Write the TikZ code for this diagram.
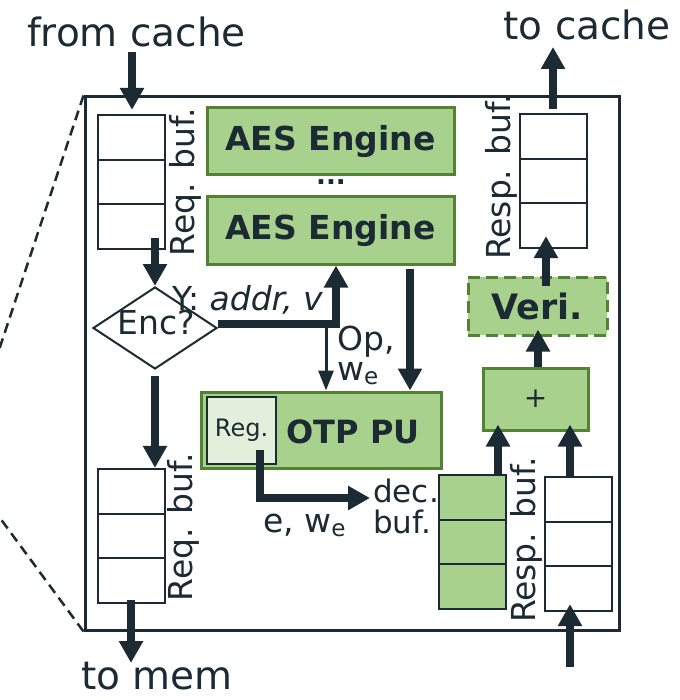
\documentclass[tikz,border=0pt]{standalone}
\usepackage{fontspec}
\setmainfont{DejaVu Sans}
\usetikzlibrary{arrows.meta,shapes.geometric,calc}
\definecolor{ink}{HTML}{1C2B33}
\definecolor{gfill}{HTML}{A9D18E}
\definecolor{gline}{HTML}{548235}
\definecolor{lfill}{HTML}{E2EFDA}
\begin{document}
\begin{tikzpicture}[x=1pt,y=-1pt,
  every node/.style={text=ink, inner sep=0pt},
  lbl/.style={font=\fontsize{33}{36}\selectfont},
  outer/.style={font=\fontsize{39}{42}\selectfont},
  buf/.style={draw=ink, line width=2.2pt, minimum width=67pt, minimum height=134pt,
    path picture={\foreach \f in {1,2}{\draw[ink,line width=2.2pt]
      ($(path picture bounding box.north west)!\f/3!(path picture bounding box.south west)$) --
      ($(path picture bounding box.north east)!\f/3!(path picture bounding box.south east)$);}}},
  gbox/.style={draw=gline, fill=gfill, line width=3pt},
  btxt/.style={font=\fontsize{33}{36}\selectfont\bfseries},
  thk/.style={draw=ink, line width=8pt, -{Triangle[width=23pt,length=22pt]}},
  thn/.style={draw=ink, line width=3pt, -{Triangle[width=15pt,length=20pt]}},
]
\useasboundingbox (0,0) rectangle (679,700);

% outer box and zoom lines
\node[draw=ink, line width=3pt, minimum width=534pt, minimum height=533pt] (outerbox) at (352,363.5) {};
\draw[ink, line width=2.5pt, dash pattern=on 10pt off 6pt] (outerbox.north west) -- (-3,356);
\draw[ink, line width=2.5pt, dash pattern=on 10pt off 6pt] (outerbox.south west) -- (-3,514);

% buffers
\node[buf] (reqA) at (131.5,182) {};
\node[buf] (reqB) at (131.5,536) {};
\node[buf] (respA) at (553.5,181) {};
\node[buf, fill=gfill] (decb) at (472.5,542) {};
\node[buf] (respB) at (578.5,544) {};

\node[lbl, rotate=90] (reqAl) at (185,182) {Req. buf.};
\node[lbl, rotate=90] (reqBl) at (183,527) {Req. buf.};
\node[lbl, rotate=90] (respAl) at (501,177) {Resp. buf.};
\node[lbl, rotate=90] (respBl) at (526,540) {Resp. buf.};

% engines
\node[gbox, minimum width=247pt, minimum height=67pt, btxt] (aes1) at (330.5,141.5) {AES Engine};
\node[gbox, minimum width=247pt, minimum height=67pt, btxt] (aes2) at (330.5,230.5) {AES Engine};
\node[font=\fontsize{26}{28}\selectfont\bfseries] (dots) at (331,182) {...};

% decision
\node[draw=ink, line width=2pt, diamond, minimum width=124pt, minimum height=82pt] (enc) at (155,328) {};
\node[lbl, anchor=base] (enct) at (156,334) {Enc?};
\node[lbl, anchor=base west] (ylab) at (172,310) {Y: \itshape addr, v};

% OTP PU
\node[gbox, minimum width=240pt, minimum height=76pt] (otp) at (321,430) {};
\node[draw=ink, fill=lfill, line width=2pt, minimum width=69pt, minimum height=67pt,
  font=\fontsize{24}{26}\selectfont] (reg) at (241.5,430.5) {Reg.};
\node[font=\fontsize{32}{34}\selectfont\bfseries] (otpt) at (353,432) {OTP PU};

\node[lbl, anchor=base west] (op) at (337,350) {Op,};
\node[lbl, anchor=base west] (we) at (337,380) {w\textsubscript{e}};
\node[lbl, anchor=base west] (ew) at (263,532) {e, w\textsubscript{e}};
\node[font=\fontsize{31}{33}\selectfont, anchor=base west] (dec1) at (373,502) {dec.};
\node[font=\fontsize{31}{33}\selectfont, anchor=base west] (dec2) at (373,533) {buf.};

% plus and veri
\node[gbox, minimum width=105pt, minimum height=62pt, font=\fontsize{28}{30}\selectfont] (plus) at (535.5,399) {+};
\node[gbox, dash pattern=on 12pt off 6pt, minimum width=139pt, minimum height=58pt,
  font=\fontsize{35}{38}\selectfont\bfseries] (veri) at (537.5,306) {Veri.};

% outside labels
\node[outer, anchor=base] (fromc) at (136.5,47) {from cache};
\node[outer, anchor=base] (toc) at (587,40) {to cache};
\node[outer, anchor=base] (tom) at (157,689) {to mem};

% connectors
\coordinate (fc) at (132,52);
\draw[thk, shorten >=4pt] (fc) -- (fc |- reqA.north);
\coordinate (ra) at (155,238);
\draw[thk] (ra) -- (enc.north);
\draw[thk, shorten <=6pt] (enc.south) -- (enc.south |- reqB.north);
\coordinate (tm) at (131,663);
\draw[thk, shorten <=-4pt] (reqB.south -| tm) -- (tm);

\coordinate (yb) at (336,324);
\draw[thk] (enc.east |- yb) -- (yb) -- (yb |- aes2.south);
\coordinate (ops) at (326,324);
\draw[thn] (ops) -- (ops |- otp.north);
\coordinate (ax) at (410,0);
\draw[thk, shorten <=3pt] (aes2.south -| ax) -- (otp.north -| ax);

\coordinate (rg) at (260,450);
\coordinate (dt) at (370,498);
\draw[thk] (rg) |- (dt);

\coordinate (dp) at (498,0);
\draw[thk, shorten >=-7pt] (decb.north -| dp) -- (plus.south -| dp);
\coordinate (rp) at (570,0);
\draw[thk, shorten >=-7pt] (respB.north -| rp) -- (plus.south -| rp);
\coordinate (rin) at (570,667);
\draw[thk, shorten >=-8pt] (rin) -- (rin |- respB.south);
\coordinate (pv) at (538,0);
\draw[thk, shorten >=-7pt] (plus.north -| pv) -- (veri.south -| pv);
\coordinate (vr) at (546,0);
\draw[thk, shorten <=-10pt, shorten >=-13pt] (veri.north -| vr) -- (respA.south -| vr);
\coordinate (tc) at (553,47);
\draw[thk, shorten <=4pt] (respA.north -| tc) -- (tc);
\end{tikzpicture}
\end{document}
